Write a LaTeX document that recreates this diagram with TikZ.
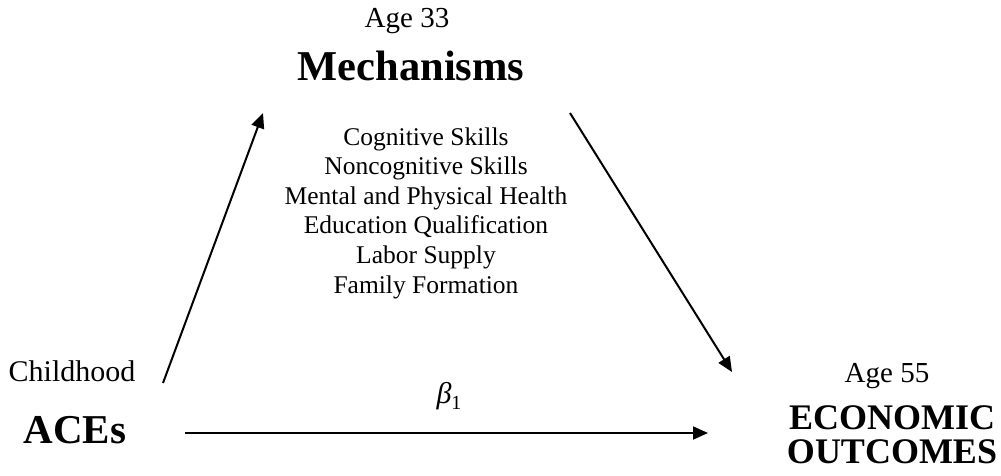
\documentclass[tikz,border=0pt]{standalone}
\usepackage{fontspec}
\setmainfont{Liberation Serif}
\usetikzlibrary{arrows.meta}
\tikzset{
  lbl/.style={inner sep=0pt, anchor=base, font=\fontsize{29}{34}\selectfont},
  big/.style={inner sep=0pt, anchor=base, font=\fontsize{41}{44}\selectfont\bfseries},
  lst/.style={inner sep=0pt, anchor=base, align=center, font=\fontsize{25.5}{29.6}\selectfont},
  arr/.style={line width=2pt, -{Triangle[length=15pt,width=13pt]}}
}
\begin{document}
\begin{tikzpicture}[x=1pt,y=-1pt]
\useasboundingbox (0,0) rectangle (1001,475);
\node[lbl] (age33) at (407,27) {Age 33};
\node[big, font=\fontsize{42.5}{44}\selectfont\bfseries] (mech) at (411,80) {Mechanisms};
\node[lst] (list) at (426,293) {Cognitive Skills\\Noncognitive Skills\\Mental and Physical Health\\Education Qualification\\Labor Supply\\Family Formation};
\node[lbl, font=\fontsize{30}{34}\selectfont] (child) at (72,381) {Childhood};
\node[big] (aces) at (75,443) {ACEs};
\node[lbl] (age55) at (887,382) {Age 55};
\node[big, align=center, font=\fontsize{36}{34}\selectfont\bfseries] (econ) at (892,463) {ECONOMIC\\OUTCOMES};
\node[inner sep=0pt, font=\fontsize{30}{34}\selectfont] (beta) at (449,396) {\textit{β}\raisebox{-6pt}{\fontsize{20}{24}\selectfont 1}};
\coordinate (l1) at (163,383);
\coordinate (l2) at (263,113);
\coordinate (r1) at (570,113);
\coordinate (r2) at (732,372);
\coordinate (h1) at (185,433);
\coordinate (h2) at (708,433);
\draw[arr] (l1) -- (l2);
\draw[arr] (r1) -- (r2);
\draw[arr] (h1) -- (h2);
\end{tikzpicture}
\end{document}
